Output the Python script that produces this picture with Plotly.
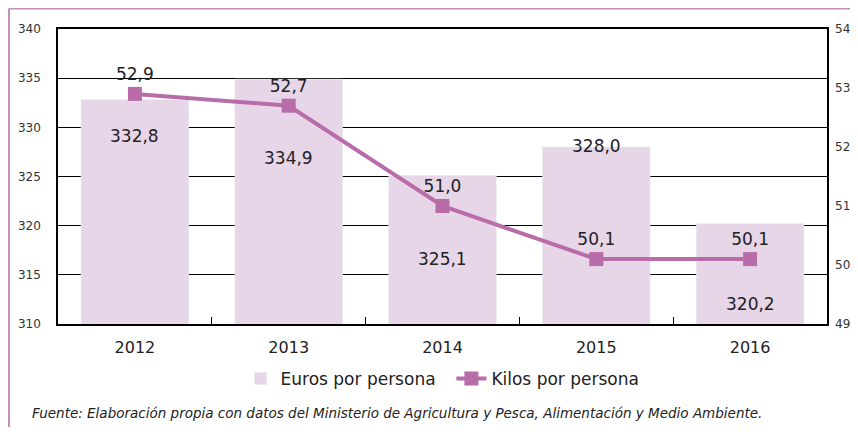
import plotly.graph_objects as go

years = ["2012", "2013", "2014", "2015", "2016"]
euros = [332.8, 334.9, 325.1, 328.0, 320.2]
kilos = [52.9, 52.7, 51.0, 50.1, 50.1]
euros_text = ["332,8", "334,9", "325,1", "328,0", "320,2"]
kilos_text = ["52,9", "52,7", "51,0", "50,1", "50,1"]
# where the bar labels sit (left-axis units), chosen to keep clear of the line
bar_label_y = [329.1, 326.9, 316.6, 328.1, 312.0]

BAR = "#e7d5e8"
LINE = "#b96da8"
FONT = "DejaVu Sans"

fig = go.Figure()
fig.add_trace(go.Bar(x=years, y=[e - 310 for e in euros], base=310,
                     name="Euros por persona  ", marker_color=BAR,
                     width=0.7, hoverinfo="skip"))
fig.add_trace(go.Scatter(x=years, y=kilos, name="Kilos por persona", yaxis="y2",
                         mode="lines+markers+text", text=kilos_text,
                         textposition="top center",
                         textfont=dict(size=17, color="#222", family=FONT),
                         line=dict(color=LINE, width=4),
                         marker=dict(symbol="square", size=14, color=LINE)))

for i, (y, t) in enumerate(zip(bar_label_y, euros_text)):
    fig.add_annotation(x=i, y=y, text=t, showarrow=False, xref="x", yref="y",
                       font=dict(size=17, color="#222", family=FONT))

fig.update_layout(
    width=842, height=419,
    margin=dict(l=50, r=23, t=21, b=103),
    paper_bgcolor="white", plot_bgcolor="white",
    font=dict(family=FONT, color="#222"),
    showlegend=True,
    legend=dict(orientation="h", x=0.5, xanchor="center", y=-0.186, yanchor="middle",
                font=dict(size=17, family=FONT, color="#222"), traceorder="normal"),
    xaxis=dict(type="category", range=[-0.5, 4.5], showline=True, linecolor="black",
               linewidth=1.5, mirror=True,
               ticks="inside", ticklen=7, tickcolor="black", tickson="boundaries",
               tickfont=dict(size=16, family=FONT, color="#222"), showgrid=False,
               automargin=False, tickangle=0, ticklabelstandoff=8),
    yaxis=dict(range=[310, 340], dtick=5, showgrid=True, gridcolor="black", gridwidth=1,
               showline=True, linecolor="black", linewidth=1.5, mirror=True,
               tickfont=dict(size=12, family=FONT, color="#333"), ticks="",
               zeroline=False, ticklabelstandoff=13, automargin=False),
    yaxis2=dict(range=[49, 54], dtick=1, overlaying="y", side="right", showgrid=False,
                tickfont=dict(size=12, family=FONT, color="#333"), zeroline=False,
                ticklabelstandoff=7, automargin=False),
    shapes=[
        dict(type="line", xref="paper", yref="paper", x0=-0.0637, x1=1.04,
             y0=1.0695, y1=1.0695, line=dict(color="#c48fbc", width=2)),
        dict(type="line", xref="paper", yref="paper", x0=-0.0637, x1=-0.0637,
             y0=1.0695, y1=-0.36, line=dict(color="#c48fbc", width=2)),
    ],
)
fig.add_annotation(text="<i>Fuente: Elaboración propia con datos del Ministerio de Agricultura y Pesca, Alimentación y Medio Ambiente.</i>",
                   xref="paper", yref="paper", x=-0.0364, y=-0.302, xanchor="left",
                   yanchor="middle", showarrow=False,
                   font=dict(size=13.5, family=FONT, color="#222"))

fig.write_html("out.html")
